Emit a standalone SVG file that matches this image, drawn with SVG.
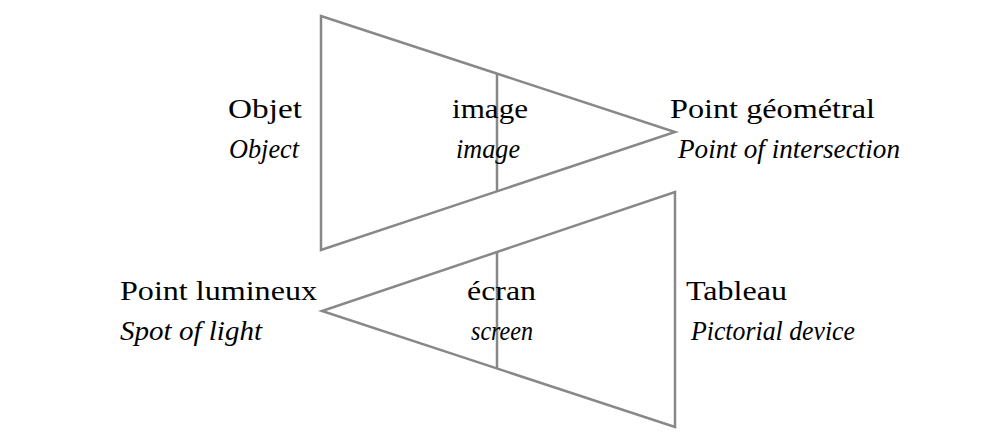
<svg xmlns="http://www.w3.org/2000/svg" width="1004" height="446" viewBox="0 0 1004 446">
<style>
.l{fill:none;stroke:#888;stroke-width:2.5}
text{font-family:"Liberation Serif","DejaVu Serif",serif;font-size:27px;fill:#000}
.i{font-style:italic}
</style>
<rect width="1004" height="446" fill="#fff"/>
<g id="connectors">
<polygon class="l" points="321,16 321,250 675,132"/>
<line class="l" x1="497" y1="73" x2="497" y2="191"/>
<polygon class="l" points="675,192 675,427 322,311"/>
<line class="l" x1="497" y1="251" x2="497" y2="369"/>
</g>
<g id="objet"><text x="228" y="118" textLength="74" lengthAdjust="spacingAndGlyphs">Objet</text><text class="i" x="229" y="158" textLength="70" lengthAdjust="spacingAndGlyphs">Object</text></g>
<g id="image"><text x="452" y="118" textLength="76" lengthAdjust="spacingAndGlyphs">image</text><text class="i" x="456" y="158" textLength="64" lengthAdjust="spacingAndGlyphs">image</text></g>
<g id="point-geometral"><text x="670" y="118" textLength="205" lengthAdjust="spacingAndGlyphs">Point géométral</text><text class="i" x="678" y="158" textLength="222" lengthAdjust="spacingAndGlyphs">Point of  intersection</text></g>
<g id="point-lumineux"><text x="120" y="300" textLength="197" lengthAdjust="spacingAndGlyphs">Point lumineux</text><text class="i" x="120" y="340" textLength="142" lengthAdjust="spacingAndGlyphs">Spot of  light</text></g>
<g id="ecran"><text x="467" y="300" textLength="69" lengthAdjust="spacingAndGlyphs">écran</text><text class="i" x="471" y="340" textLength="62" lengthAdjust="spacingAndGlyphs">screen</text></g>
<g id="tableau"><text x="686" y="300" textLength="101" lengthAdjust="spacingAndGlyphs">Tableau</text><text class="i" x="691" y="340" textLength="164" lengthAdjust="spacingAndGlyphs">Pictorial device</text></g>
</svg>
